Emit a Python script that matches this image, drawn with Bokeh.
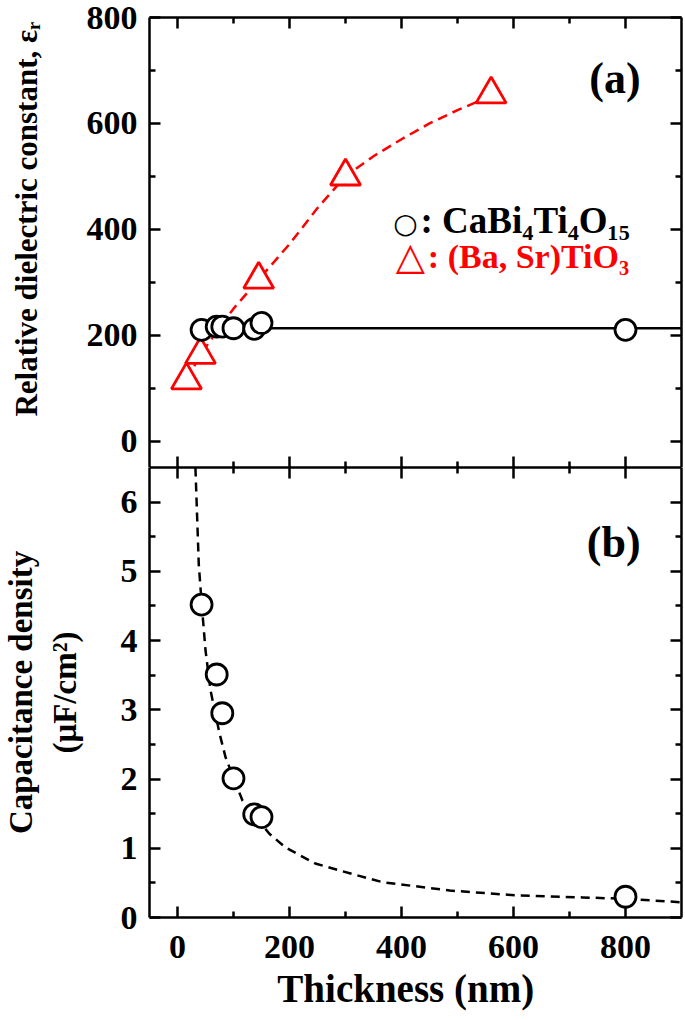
from bokeh.plotting import figure
from bokeh.models import LinearAxis, FixedTicker, Range1d, Label, CustomLabelingPolicy
from bokeh.layouts import column
from bokeh.embed import file_html
from bokeh.resources import INLINE

# ---------------- data ----------------
cbt_thickness = [43, 70, 80, 100, 137, 150, 800]          # nm
cbt_eps = [210, 216, 216, 213, 212, 223, 210]
cbt_cap = [4.52, 3.51, 2.95, 2.01, 1.49, 1.45, 0.30]      # uF/cm2
cbt_eps_level_x = [43, 900]
cbt_eps_level_y = [213, 213]

bst_thickness = [16, 41, 145, 300, 560]
bst_eps = [115, 163, 305, 500, 655]
bst_curve_x = [16, 41, 80, 100, 145, 200, 250, 300, 350, 400, 450, 500, 560]
bst_curve_y = [115, 163, 222, 250, 305, 372, 440, 500, 538, 570, 600, 625, 652]

cap_curve_x = [32, 38, 43, 50, 59, 75, 86, 100, 116, 140, 164, 193, 246, 289, 366, 486, 604, 723, 800, 900]
cap_curve_y = [6.5, 5.1, 4.55, 3.86, 3.28, 2.66, 2.31, 2.02, 1.69, 1.45, 1.21, 1.01, 0.78, 0.68, 0.51, 0.39, 0.32, 0.29, 0.27, 0.22]

x_major = [0, 200, 400, 600, 800]
x_minor = [100, 300, 500, 700]
eps_major = [0, 200, 400, 600, 800]
eps_minor = [100, 300, 500, 700]
cap_major = [0, 1, 2, 3, 4, 5, 6]
cap_minor = [0.5, 1.5, 2.5, 3.5, 4.5, 5.5]

FONT = "Liberation Serif"
RED = "#FF0000"
NBSP = "\u00a0"

no_labels = CustomLabelingPolicy(
    code="for (let i = 0; i < indices.size; i++) { indices.unset(i) } return indices")


def style_axis(ax, show_labels, size="34px", standoff=12):
    ax.axis_line_width = 2.5
    ax.axis_line_color = "black"
    ax.major_tick_in = 11
    ax.major_tick_out = 0
    ax.minor_tick_in = 6
    ax.minor_tick_out = 0
    ax.major_tick_line_width = 2.5
    ax.minor_tick_line_width = 2.5
    ax.major_tick_line_color = "black"
    ax.minor_tick_line_color = "black"
    if show_labels:
        ax.major_label_text_font = FONT
        ax.major_label_text_font_style = "bold"
        ax.major_label_text_font_size = size
        ax.major_label_text_color = "black"
        ax.major_label_standoff = standoff
    else:
        ax.major_label_text_font_size = "0px"
        ax.major_label_standoff = 0
        ax.major_label_policy = no_labels


def style_title(ax, text, size, standoff):
    ax.axis_label = text
    ax.axis_label_text_font = FONT
    ax.axis_label_text_font_style = "bold"
    ax.axis_label_text_font_size = size
    ax.axis_label_text_color = "black"
    ax.axis_label_standoff = standoff


def make_fig(y_range, frame_h, ymaj, ymin, top_border, bottom_border, x_labels):
    p = figure(frame_width=532, frame_height=frame_h,
               x_range=Range1d(-50, 900), y_range=y_range,
               output_backend="svg", toolbar_location=None,
               x_axis_location=None, y_axis_location=None,
               min_border_left=147, min_border_right=6,
               min_border_top=top_border, min_border_bottom=bottom_border,
               background_fill_color="white", border_fill_color="white")
    p.outline_line_color = None
    p.xgrid.visible = False
    p.ygrid.visible = False
    xt = FixedTicker(ticks=x_major, minor_ticks=x_minor)
    yt = FixedTicker(ticks=ymaj, minor_ticks=ymin)
    left = LinearAxis(ticker=yt)
    style_axis(left, True)
    right = LinearAxis(ticker=yt)
    style_axis(right, False)
    above = LinearAxis(ticker=xt)
    style_axis(above, False)
    below = LinearAxis(ticker=xt)
    style_axis(below, x_labels, standoff=18)
    p.add_layout(left, "left")
    p.add_layout(right, "right")
    p.add_layout(above, "above")
    p.add_layout(below, "below")
    return p, left, below


# ---------------- panel (a) ----------------
pa, la, _ = make_fig(Range1d(-50, 800), 450, eps_major, eps_minor, 17, 0, False)
style_title(la, NBSP * 6 + "Relative dielectric constant, εᵣ", "31px", 40)

pa.line(cbt_eps_level_x, cbt_eps_level_y, line_color="black", line_width=2.5)
pa.line(bst_curve_x, bst_curve_y, line_color=RED, line_width=2.5, line_dash="10 6")
pa.scatter(bst_thickness, bst_eps, marker="triangle", size=30, line_color=RED,
           fill_color="white", line_width=2.8)
pa.scatter(cbt_thickness, cbt_eps, marker="circle", size=21, line_color="black",
           fill_color="white", line_width=2.8)

pa.add_layout(Label(x=827, y=684, text="(a)", text_align="right", text_baseline="middle",
                    text_font=FONT, text_font_style="bold", text_font_size="44px",
                    text_color="black"))
pa.add_layout(Label(x=407, y=411, text="○", text_align="center", text_baseline="middle",
                    text_font="DejaVu Sans", text_font_style="bold", text_font_size="28px",
                    text_color="black"))
pa.add_layout(Label(x=434, y=417, text=": CaBi₄Ti₄O₁₅", text_align="left",
                    text_baseline="middle", text_font=FONT, text_font_style="bold",
                    text_font_size="37px", text_color="black"))
pa.add_layout(Label(x=416, y=349, text="△", text_align="center", text_baseline="middle",
                    text_font="DejaVu Sans", text_font_style="bold", text_font_size="38px",
                    text_color=RED))
pa.add_layout(Label(x=447, y=349, text=": (Ba, Sr)TiO₃", text_align="left",
                    text_baseline="middle", text_font=FONT, text_font_style="bold",
                    text_font_size="34px", text_color=RED))

# ---------------- panel (b) ----------------
pb, lb, bb = make_fig(Range1d(0, 6.5), 450, cap_major, cap_minor, 0, 103, True)
style_title(lb, "Capacitance density\n(μF/cm²)", "33px", 35)
style_title(bb, "Thickness (nm)" + NBSP * 2, "39px", 6)

pb.line(cap_curve_x, cap_curve_y, line_color="black", line_width=2.5, line_dash="9 6")
pb.scatter(cbt_thickness, cbt_cap, marker="circle", size=21, line_color="black",
           fill_color="white", line_width=2.8)
pb.add_layout(Label(x=827, y=5.42, text="(b)", text_align="right", text_baseline="middle",
                    text_font=FONT, text_font_style="bold", text_font_size="44px",
                    text_color="black"))

layout = column(pa, pb, spacing=0)
open("out.html", "w").write(file_html(layout, INLINE))
